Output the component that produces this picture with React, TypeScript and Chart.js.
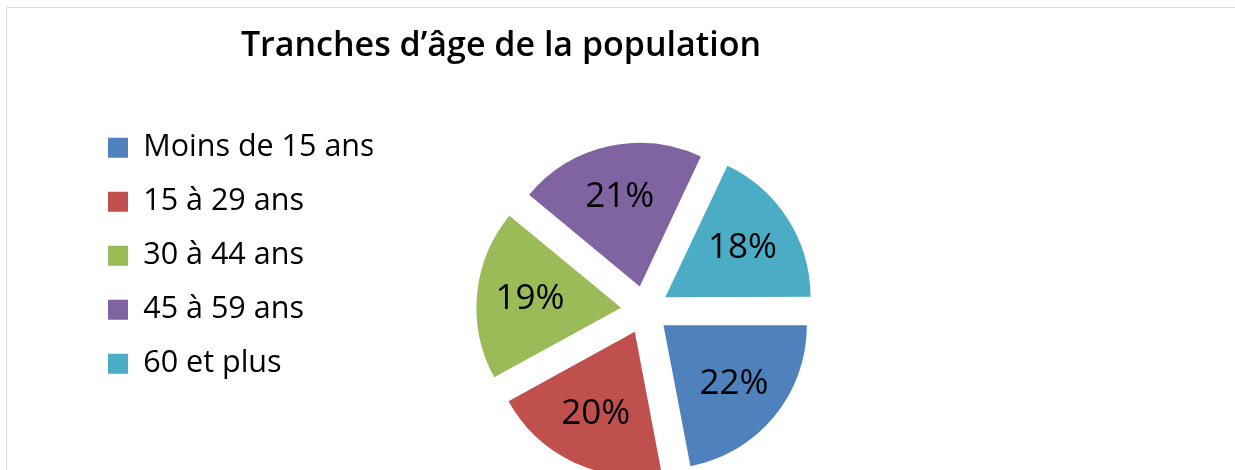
import React, { useEffect, useRef } from 'react';
import { Chart, registerables } from 'chart.js';

Chart.register(...registerables);

const categories = ['Moins de 15 ans', '15 à 29 ans', '30 à 44 ans', '45 à 59 ans', '60 et plus'];
const shares = [22, 20, 19, 21, 18];
const colors = ['#4F81BD', '#C0504D', '#9BBB59', '#8064A2', '#4BACC6'];
const titleText = 'Tranches d\u2019âge de la population';

const OFFSET = 96; // Chart.js 4 arcs are translated by offset / 4
const FONT = "'Open Sans', 'Noto Sans', sans-serif";

const pctLabels = {
  id: 'pctLabels',
  afterDatasetsDraw(chart: any) {
    const ctx = chart.ctx;
    const meta = chart.getDatasetMeta(0);
    const data = chart.data.datasets[0].data as number[];
    const total = data.reduce((a, b) => a + b, 0);
    ctx.save();
    ctx.font = `35px ${FONT}`;
    ctx.fillStyle = '#000';
    ctx.textAlign = 'center';
    ctx.textBaseline = 'middle';
    meta.data.forEach((arc: any, i: number) => {
      const { x, y, startAngle, endAngle, outerRadius } = arc.getProps(
        ['x', 'y', 'startAngle', 'endAngle', 'outerRadius'],
        true
      );
      const mid = (startAngle + endAngle) / 2;
      const d = OFFSET / 4 + outerRadius * 0.64;
      ctx.fillText(
        Math.round((data[i] / total) * 100) + '%',
        x + Math.cos(mid) * d,
        y + Math.sin(mid) * d
      );
    });
    ctx.restore();
  },
};

export default function App() {
  const ref = useRef<HTMLCanvasElement>(null);

  useEffect(() => {
    if (!ref.current) return;
    const chart = new Chart(ref.current, {
      type: 'pie',
      data: {
        labels: categories,
        datasets: [
          {
            data: shares,
            backgroundColor: colors,
            borderWidth: 0,
            offset: OFFSET,
          },
        ],
      },
      options: {
        responsive: false,
        animation: false,
        rotation: 90,
        radius: 143,
        layout: { padding: { left: 84.5, right: 1235 - 917.5, top: 0, bottom: 89 } },
        plugins: {
          title: {
            display: true,
            text: titleText,
            color: '#000',
            font: { family: FONT, size: 34, weight: '600', lineHeight: 1.2 },
            padding: { top: 25.6, bottom: 42.6 },
          },
          legend: {
            position: 'left',
            align: 'start',
            fullSize: false,
            maxWidth: 288,
            labels: {
              color: '#000',
              boxWidth: 20,
              boxHeight: 20,
              padding: 23.5,
              font: { family: FONT, size: 30.5 },
            },
          },
          tooltip: { enabled: false },
        },
      },
      plugins: [pctLabels],
    });
    return () => chart.destroy();
  }, []);

  return (
    <div
      style={{
        position: 'fixed',
        left: 0,
        top: 0,
        width: 1235,
        height: 470,
        overflow: 'hidden',
        background: '#fff',
      }}
    >
      <div
        style={{
          position: 'absolute',
          left: 6,
          top: 7,
          width: 1400,
          height: 700,
          border: '1px solid #d9d9d9',
        }}
      />
      <canvas
        ref={ref}
        width={1235}
        height={600}
        style={{ position: 'absolute', left: 0, top: 0 }}
      />
    </div>
  );
}
